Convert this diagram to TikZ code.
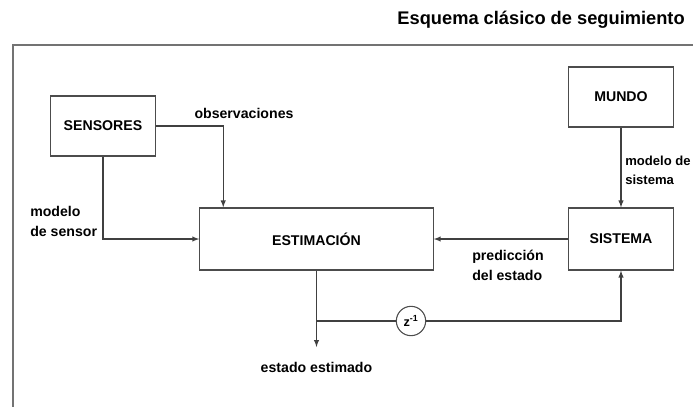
\documentclass[tikz,border=0pt]{standalone}
\usepackage{fontspec}
\setmainfont{Liberation Sans}
\usetikzlibrary{positioning}

\begin{document}
\begin{tikzpicture}
[
	x=0.75pt,
	y=-0.75pt,
	font=\bfseries\fontsize{10.6}{15}\selectfont,
	bloque/.style={rectangle,draw=black!70,line width=0.9pt,minimum width=79pt,minimum height=45pt,inner sep=0pt},
	retardo/.style={circle,draw=black!70,line width=0.8pt,minimum size=22pt,inner sep=0pt,font=\bfseries\fontsize{9.5}{10}\selectfont},
	etiqueta/.style={align=left,inner sep=0pt},
	flecha/.style={draw=black!75,line width=0.8pt,-latex},
	linea/.style={draw=black!75,line width=0.8pt}
]

	\useasboundingbox (0,0) rectangle (693,407);

	% marco y titulo
	\draw[black!55,line width=1.2pt] (693,45) -| (13,407);
	\node[anchor=east,inner sep=0pt,font=\bfseries\fontsize{13.7}{15}\selectfont] (titulo) at (685,20) {Esquema clásico de seguimiento};

	% bloques
	\node[bloque] (sensores) at (103,126) {SENSORES};
	\node[bloque,minimum width=175pt,minimum height=46.5pt] (estim) at (316.5,239) {ESTIMACIÓN};
	\node[bloque] (mundo) at (621,97) {MUNDO};
	\node[bloque,minimum height=46.5pt] (sistema) at (621,239) {SISTEMA};
	\node[retardo] (delay) at (411,321) {z\textsuperscript{-1}};

	\coordinate (rama) at (316.5,321);
	\coordinate (salida) at (316.5,347);

	% conexiones
	\draw[flecha] (sensores.east) -| ([xshift=18pt]estim.north west);
	\draw[flecha] (sensores.south) |- (estim.west);
	\draw[flecha] (mundo.south) -- (sistema.north);
	\draw[flecha] (sistema.west) -- (estim.east);
	\draw[flecha] (estim.south) -- (salida);
	\draw[linea] (rama) -- (delay);
	\draw[flecha] (delay) -| (sistema.south);

	% etiquetas
	\node[etiqueta] (obs) at (244,113) {observaciones};
	\node[etiqueta,anchor=west] (msensor) at (30,221) {modelo\\de sensor};
	\node[etiqueta,anchor=west,font=\bfseries\fontsize{9.8}{14.5}\selectfont] (msistema) at (625,170) {modelo de\\sistema};
	\node[etiqueta,anchor=west] (pred) at (472,265) {predicción\\del estado};
	\node[etiqueta] (estado) at (316.5,367) {estado estimado};

\end{tikzpicture}
\end{document}
